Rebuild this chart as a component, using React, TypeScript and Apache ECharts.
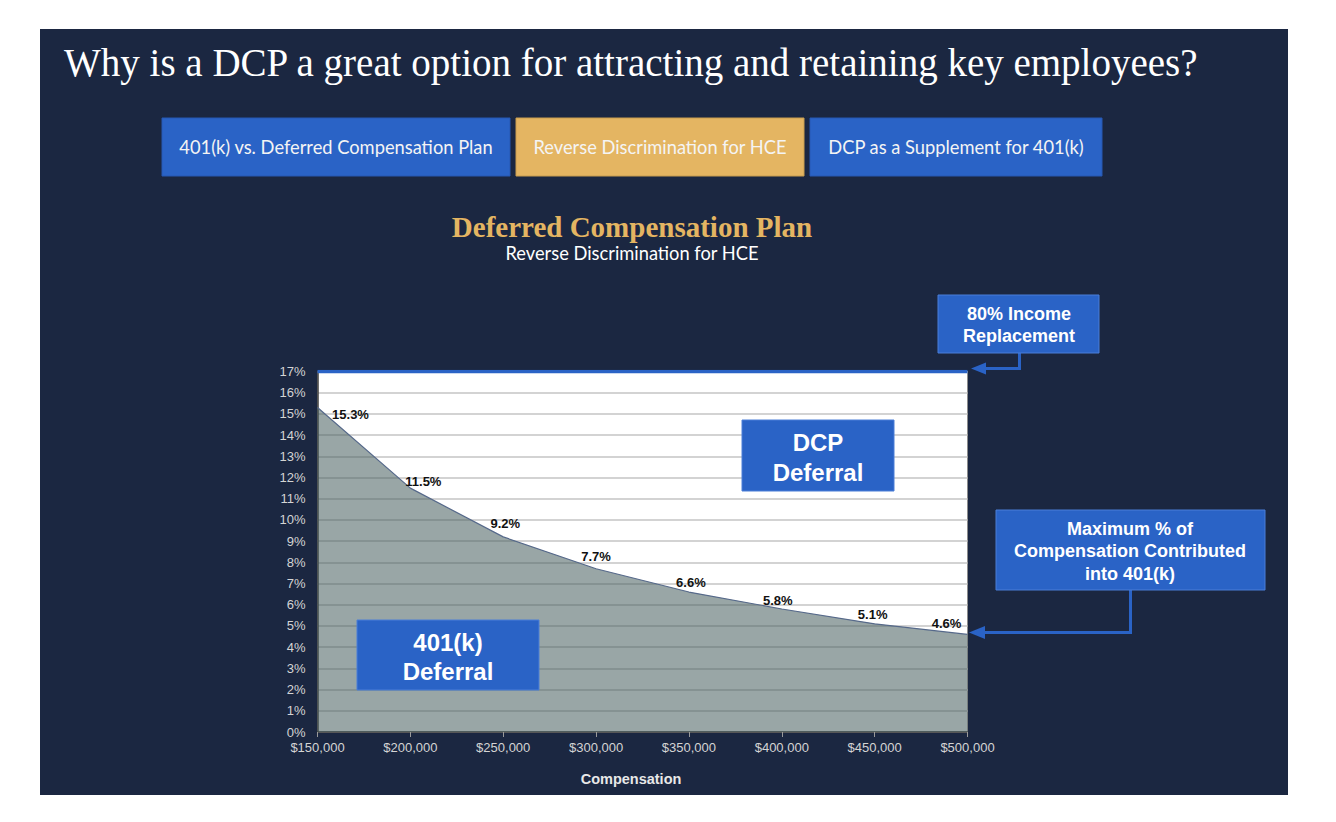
import React, { useEffect, useRef } from "react";
import * as echarts from "echarts";

// ---- Data ----
const compensation = [150000, 200000, 250000, 300000, 350000, 400000, 450000, 500000];
const maxPct401k = [15.3, 11.5, 9.2, 7.7, 6.6, 5.8, 5.1, 4.6];
const incomeReplacementPct = 17;
const yMin = 0;
const yMax = 17;
const xMin = 150000;
const xMax = 500000;
const xStep = 50000;

const pageTitle = "Why is a DCP a great option for attracting and retaining key employees?";
const tabLabels = ["401(k) vs. Deferred Compensation Plan", "Reverse Discrimination for HCE", "DCP as a Supplement for 401(k)"];
const chartTitle = "Deferred Compensation Plan";
const chartSubtitle = "Reverse Discrimination for HCE";
const xAxisName = "Compensation";

// label nudges (styling only)
const labelOffsets: [number, number][] = [
  [33, 19],
  [13, 5],
  [2, -1.5],
  [0, 0],
  [2, 2],
  [-4, 3.5],
  [-2, 2.5],
  [-21, 1],
];

const NAVY = "#1b2741";
const BLUE = "#2a63c6";
const GOLD = "#e4b562";

export default function App() {
  const ref = useRef<HTMLDivElement>(null);

  useEffect(() => {
    if (!ref.current) return;
    const chart = echarts.init(ref.current, null, { renderer: "svg" });

    const boxText = (x: number, y: number, text: string, size: number, lh: number) => ({
      type: "text",
      x,
      y,
      z: 101,
      style: {
        text,
        fill: "#ffffff",
        fontFamily: "'Liberation Sans', Arial, sans-serif",
        fontWeight: "bold",
        fontSize: size,
        lineHeight: lh,
        align: "center",
        verticalAlign: "middle",
      },
    });

    const box = (x: number, y: number, w: number, h: number) => ({
      type: "rect",
      z: 100,
      shape: { x, y, width: w, height: h },
      style: { fill: BLUE, stroke: "#4a7fd8", lineWidth: 1 },
    });

    const tabs = [
      { x: 162, w: 348, color: BLUE },
      { x: 516, w: 288, color: GOLD },
      { x: 810, w: 292, color: BLUE },
    ];

    const graphic: any[] = [
      {
        type: "rect",
        z: -100,
        shape: { x: 40, y: 29, width: 1248, height: 766 },
        style: { fill: NAVY },
      },
      {
        type: "text",
        x: 64,
        y: 62,
        z: 10,
        style: {
          text: pageTitle,
          fill: "#ffffff",
          fontFamily: "'Liberation Serif', serif",
          fontSize: 39,
          align: "left",
          verticalAlign: "middle",
        },
      },
      ...tabs.flatMap((t, i) => [
        {
          type: "rect",
          z: 10,
          shape: { x: t.x, y: 118, width: t.w, height: 58 },
          style: { fill: t.color, stroke: i === 1 ? "#c99d4f" : "#2759b3", lineWidth: 1 },
        },
        {
          type: "text",
          x: t.x + t.w / 2,
          y: 147,
          z: 11,
          style: {
            text: tabLabels[i],
            fill: "#f4f4f4",
            fontFamily: "Lato, 'Open Sans', sans-serif",
            fontSize: 18.3,
            align: "center",
            verticalAlign: "middle",
          },
        },
      ]),
      {
        type: "text",
        x: 632,
        y: 227,
        z: 10,
        style: {
          text: chartTitle,
          fill: GOLD,
          fontFamily: "'Liberation Serif', serif",
          fontWeight: "bold",
          fontSize: 29,
          align: "center",
          verticalAlign: "middle",
        },
      },
      {
        type: "text",
        x: 632,
        y: 253,
        z: 10,
        style: {
          text: chartSubtitle,
          fill: "#ffffff",
          fontFamily: "Lato, 'Open Sans', sans-serif",
          fontSize: 18.3,
          align: "center",
          verticalAlign: "middle",
        },
      },
      {
        type: "text",
        x: 631,
        y: 779,
        z: 10,
        style: {
          text: xAxisName,
          fill: "#e8e8e8",
          fontFamily: "'Liberation Sans', Arial, sans-serif",
          fontWeight: "bold",
          fontSize: 14.5,
          align: "center",
          verticalAlign: "middle",
        },
      },
      // 80% Income Replacement callout
      box(938, 295, 161, 58),
      boxText(1019, 325, "80% Income\nReplacement", 18, 22),
      {
        type: "polyline",
        z: 99,
        shape: { points: [[1019.5, 353], [1019.5, 368.5], [982, 368.5]] },
        style: { stroke: BLUE, lineWidth: 3, fill: null },
      },
      {
        type: "polygon",
        z: 99,
        shape: { points: [[971, 368.5], [986, 362.5], [986, 374.5]] },
        style: { fill: BLUE },
      },
      // Maximum % callout
      box(996, 510, 269, 80),
      boxText(1130, 551, "Maximum % of\nCompensation Contributed\ninto 401(k)", 18, 22.5),
      {
        type: "polyline",
        z: 99,
        shape: { points: [[1130.5, 590], [1130.5, 632.5], [982, 632.5]] },
        style: { stroke: BLUE, lineWidth: 3, fill: null },
      },
      {
        type: "polygon",
        z: 99,
        shape: { points: [[969, 632.5], [985, 626], [985, 639]] },
        style: { fill: BLUE },
      },
      // In-plot labels
      box(742, 420, 152, 71),
      boxText(818, 457, "DCP\nDeferral", 24, 30),
      box(357, 620, 182, 70),
      boxText(448, 657, "401(k)\nDeferral", 24, 29),
    ];

    chart.setOption({
      animation: false,
      backgroundColor: "#ffffff",
      grid: {
        left: 317.5,
        top: 371.5,
        width: 650,
        height: 360.5,
        show: true,
        backgroundColor: "#ffffff",
        borderColor: "#8c8c8c",
        borderWidth: 1,
        containLabel: false,
      },
      xAxis: {
        type: "value",
        min: xMin,
        max: xMax,
        interval: xStep,
        axisLine: { show: true, lineStyle: { color: "#3c3c3c", width: 1.5 } },
        axisTick: { show: true, length: 5, lineStyle: { color: "#9a9a9a" } },
        splitLine: { show: false },
        axisLabel: {
          color: "#d4d4d4",
          fontSize: 13,
          fontFamily: "'Liberation Sans', Arial, sans-serif",
          margin: 9,
          formatter: (v: number) => "$" + v.toLocaleString("en-US"),
        },
      },
      yAxis: {
        type: "value",
        min: yMin,
        max: yMax,
        interval: 1,
        axisLine: { show: true, lineStyle: { color: "#3c3c3c", width: 1.5 } },
        axisTick: { show: false },
        splitLine: { show: true, lineStyle: { color: "#c4c4c4", width: 1.5 } },
        axisLabel: {
          color: "#d4d4d4",
          fontSize: 13,
          fontFamily: "'Liberation Sans', Arial, sans-serif",
          margin: 12,
          formatter: "{value}%",
        },
      },
      graphic,
      series: [
        {
          type: "line",
          name: "401(k) Max %",
          data: compensation.map((x, i) => [x, maxPct401k[i]]),
          symbol: "circle",
          symbolSize: 1,
          showSymbol: true,
          itemStyle: { color: "rgba(0,0,0,0)" },
          smooth: false,
          lineStyle: { color: "#56698a", width: 1.2 },
          areaStyle: { color: "rgb(70,93,93)", opacity: 0.55 },
          label: {
            show: true,
            position: "top",
            distance: 5,
            color: "#111111",
            fontWeight: "bold",
            fontSize: 13,
            fontFamily: "'Liberation Sans', Arial, sans-serif",
            formatter: (p: any) => p.value[1] + "%",
          },
          labelLayout: (params: any) => {
            const o = labelOffsets[params.dataIndex] || [0, 0];
            return { dx: o[0], dy: o[1], hideOverlap: false };
          },
          z: 3,
        },
        {
          type: "line",
          name: "80% Income Replacement",
          data: [
            [compensation[0], incomeReplacementPct],
            [compensation[compensation.length - 1], incomeReplacementPct],
          ],
          symbol: "none",
          lineStyle: { color: BLUE, width: 3.5 },
          z: 5,
        },
      ],
    });

    return () => chart.dispose();
  }, []);

  return (
    <div
      ref={ref}
      style={{ position: "absolute", left: 0, top: 0, width: 1336, height: 822 }}
    />
  );
}
